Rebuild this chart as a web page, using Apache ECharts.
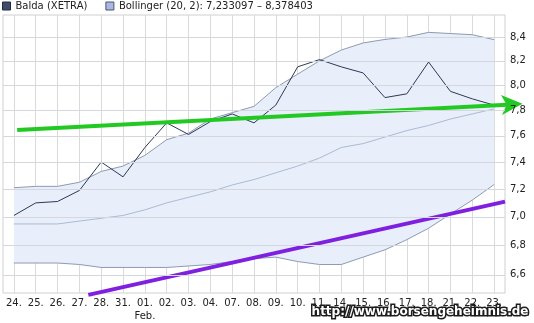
<!DOCTYPE html>
<html>
<head>
<meta charset="utf-8">
<script src="https://cdn.jsdelivr.net/npm/echarts@6/dist/echarts.min.js"></script>
<style>
    html, body { margin: 0; padding: 0; background: #fff; }
    #chart { width: 534px; height: 323px; }
</style>
</head>
<body>
<div id="chart"></div>
<script>
const days = ['24.', '25.', '26.', '27.', '28.', '31.', '01.', '02.', '03.', '04.', '07.', '08.',
    '09.', '10.', '11.', '14.', '15.', '16.', '17.', '18.', '21.', '22.', '23.'];
const balda = [7.01, 7.10, 7.11, 7.19, 7.40, 7.29, 7.51, 7.70, 7.61, 7.71, 7.77, 7.70,
    7.84, 8.15, 8.21, 8.15, 8.10, 7.90, 7.93, 8.19, 7.95, 7.89, 7.84];
const bandUpper = [7.21, 7.22, 7.22, 7.25, 7.33, 7.37, 7.45, 7.57, 7.62, 7.73, 7.78, 7.83,
    7.98, 8.09, 8.20, 8.29, 8.35, 8.38, 8.40, 8.44, 8.43, 8.42, 8.378];
const bandMiddle = [6.95, 6.95, 6.95, 6.97, 6.99, 7.01, 7.05, 7.10, 7.14, 7.18, 7.23, 7.27,
    7.32, 7.37, 7.43, 7.51, 7.54, 7.59, 7.64, 7.68, 7.73, 7.77, 7.81];
const bandLower = [6.68, 6.68, 6.68, 6.67, 6.65, 6.65, 6.65, 6.65, 6.66, 6.67, 6.69, 6.71,
    6.72, 6.69, 6.67, 6.67, 6.72, 6.77, 6.84, 6.92, 7.02, 7.12, 7.233];
const yTicks = [6.6, 6.8, 7.0, 7.2, 7.4, 7.6, 7.8, 8.0, 8.2, 8.4];
// trend lines, x in category index units
const trendGreen = [[0.15, 7.644], [23.3, 7.85]];
const trendPurple = [[3.41, 6.468], [22.5, 7.109]];

const baldaName = 'Balda (XETRA)';
const bollName = 'Bollinger (20, 2): 7,233097 \u2013 8,378403';
const font = 'DejaVu Sans';

const chart = echarts.init(document.getElementById('chart'));

chart.setOption({
    animation: false,
    backgroundColor: '#fff',
    grid: {
        left: 3, right: 29, top: 15, bottom: 30,
        show: true, borderColor: '#d0d0d0', borderWidth: 1
    },
    legend: {
        left: 2, top: 1, padding: 0,
        icon: 'rect', itemWidth: 8, itemHeight: 8, itemGap: 18,
        textStyle: { fontFamily: font, fontSize: 10, color: '#222' },
        data: [
            { name: baldaName, itemStyle: { color: '#3f4c68', borderColor: '#222c44', borderWidth: 1 } },
            { name: bollName, itemStyle: { color: '#aab8e2', borderColor: '#4c5672', borderWidth: 1 } }
        ]
    },
    xAxis: [
        {
            type: 'category',
            data: days,
            boundaryGap: true,
            axisLine: { show: false },
            axisTick: { show: false },
            axisLabel: {
                interval: 0,
                fontFamily: font, fontSize: 10, color: '#222', margin: 4, lineHeight: 13,
                formatter: (v) => v === '01.' ? v + '\nFeb.' : v
            },
            splitLine: { show: true, alignWithLabel: true, interval: 0, lineStyle: { color: '#dadada' } }
        },
        { type: 'value', min: -0.5, max: 22.5, show: false }
    ],
    yAxis: {
        type: 'log',
        logBase: 10,
        min: 6.48,
        max: 8.59,
        position: 'right',
        axisLine: { show: false },
        axisTick: { show: false },
        axisLabel: { show: false },
        splitLine: { show: false }
    },
    graphic: [{
        type: 'text',
        right: 4,
        bottom: 4,
        style: {
            text: 'http://www.borsengeheimnis.de',
            font: 'bold 12px "DejaVu Sans"',
            fill: '#fff',
            stroke: '#1c1c1c',
            lineWidth: 3
        }
    }],
    series: [
        {
            name: bollName,
            type: 'custom',
            z: 1,
            data: bandUpper.map((v, i) => [i, v]),
            renderItem(params, api) {
                if (params.dataIndex !== 0) return null;
                const pts = [];
                for (let i = 0; i < bandUpper.length; i++) pts.push(api.coord([i, bandUpper[i]]));
                for (let i = bandLower.length - 1; i >= 0; i--) pts.push(api.coord([i, bandLower[i]]));
                return { type: 'polygon', shape: { points: pts }, style: { fill: '#e8effa' } };
            },
            markLine: {
                silent: true,
                symbol: 'none',
                lineStyle: { color: '#d4d8de', width: 1, type: 'solid' },
                label: {
                    position: 'end', distance: 5,
                    fontFamily: font, fontSize: 10, color: '#222',
                    formatter: (p) => p.value.toFixed(1).replace('.', ',')
                },
                data: yTicks.map((v) => ({ yAxis: v }))
            }
        },
        {
            name: bollName, type: 'line', data: bandUpper, z: 2,
            symbol: 'none', lineStyle: { color: '#8d9ab2', width: 1 }
        },
        {
            name: bollName, type: 'line', data: bandMiddle, z: 2,
            symbol: 'none', lineStyle: { color: '#abbad3', width: 1 }
        },
        {
            name: bollName, type: 'line', data: bandLower, z: 2,
            symbol: 'none', lineStyle: { color: '#8d9ab2', width: 1 }
        },
        {
            name: baldaName, type: 'line', data: balda, z: 3,
            symbol: 'none', lineStyle: { color: '#2e3a56', width: 1 }
        },
        {
            name: 'trend up', type: 'line', xAxisIndex: 1, z: 4, clip: false,
            data: [
                { value: trendGreen[0], symbol: 'none' },
                { value: trendGreen[1], symbol: 'arrow', symbolSize: [15, 21], symbolRotate: -87 }
            ],
            showSymbol: true,
            itemStyle: { color: '#22c922' },
            lineStyle: { color: '#22c922', width: 4 }
        },
        {
            name: 'trend low', type: 'line', xAxisIndex: 1, z: 4, clip: false,
            data: trendPurple,
            symbol: 'none',
            lineStyle: { color: '#7f1fe0', width: 4 }
        }
    ]
});
</script>
</body>
</html>
